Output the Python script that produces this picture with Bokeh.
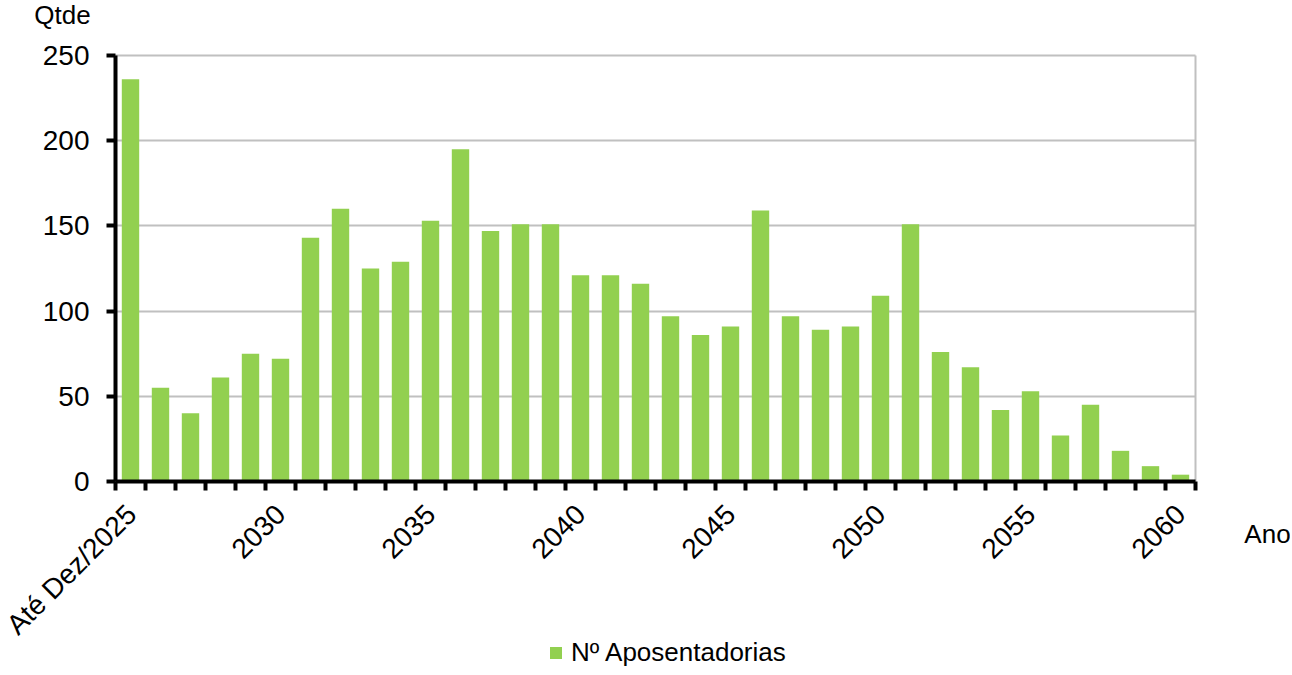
from bokeh.plotting import figure
from bokeh.models import Range1d, FixedTicker, Legend, LegendItem, Label
from bokeh.embed import file_html
from bokeh.resources import INLINE
import math

categories = ["Até Dez/2025"] + [str(y) for y in range(2026, 2061)]
values = [236, 55, 40, 61, 75, 72, 143, 160, 125, 129, 153, 195, 147, 151, 151,
          121, 121, 116, 97, 86, 91, 159, 97, 89, 91, 109, 151, 76, 67, 42, 53,
          27, 45, 18, 9, 4]
series_name = "Nº Aposentadorias"
y_label = "Qtde"
x_label = "Ano"
y_ticks = [0, 50, 100, 150, 200, 250]

FONT = "Liberation Sans"
TICK_FS = "28px"
FS = "26px"
GREEN = "#92D050"
GRID = "#C0C0C0"

n = len(categories)
xs = list(range(n))
y_max = 250

# canvas / plot-area geometry (pixels)
W, H = 1290, 667
PL, PR, PT, PB = 115, 1195, 55, 481
xpx = (PR - PL) / n            # pixels per category
ypx = (PB - PT) / y_max        # pixels per unit
x0 = -0.5 - PL / xpx
x1 = x0 + W / xpx
y0 = -(H - PB) / ypx
y1 = y_max + PT / ypx

p = figure(width=W, height=H, output_backend="svg", toolbar_location=None,
           x_range=Range1d(x0, x1), y_range=Range1d(y0, y1),
           min_border=0, min_border_left=0, min_border_right=0,
           min_border_top=0, min_border_bottom=0)
p.outline_line_color = None

r = p.vbar(x=xs, top=values, width=0.58, fill_color=GREEN, line_color=None)

label_idx = list(range(0, n, 5))
xa = p.xaxis[0]
xa.fixed_location = 0
xa.bounds = (-0.5, n - 0.5)
xa.ticker = FixedTicker(ticks=label_idx, minor_ticks=[i - 0.5 for i in range(n + 1)])
xa.major_label_overrides = {i: categories[i] for i in label_idx}
xa.major_label_orientation = math.pi / 4
xa.major_tick_out = 0
xa.major_tick_in = 0
xa.minor_tick_out = 9
xa.minor_tick_in = 0
xa.minor_tick_line_width = 4
xa.minor_tick_line_color = "black"
xa.axis_line_width = 4
xa.axis_line_color = "black"
xa.major_label_text_font = FONT
xa.major_label_text_font_size = TICK_FS
xa.major_label_text_color = "black"
xa.major_label_standoff = 19

ya = p.yaxis[0]
ya.fixed_location = -0.5
ya.bounds = (0, y_max)
ya.ticker = FixedTicker(ticks=y_ticks)
ya.minor_tick_line_color = None
ya.major_tick_out = 9
ya.major_tick_in = 0
ya.major_tick_line_width = 4
ya.axis_line_width = 4
ya.major_label_text_font = FONT
ya.major_label_text_font_size = TICK_FS
ya.major_label_text_color = "black"
ya.major_label_standoff = 17

p.ygrid.ticker = FixedTicker(ticks=y_ticks[1:])
p.ygrid.cross_bounds = (-0.5, n - 0.5)
p.ygrid.grid_line_color = GRID
p.ygrid.grid_line_width = 2
p.xgrid.ticker = FixedTicker(ticks=[n - 0.5])
p.xgrid.cross_bounds = (0, y_max)
p.xgrid.grid_line_color = GRID
p.xgrid.grid_line_width = 2

p.add_layout(Label(x=-0.5, y=y_max, x_offset=-53, y_offset=41, text=y_label,
                   text_font=FONT, text_font_size=FS, text_align="center",
                   text_baseline="middle", text_color="black"))
p.add_layout(Label(x=n - 0.5, y=0, x_offset=72, y_offset=-52, text=x_label,
                   text_font=FONT, text_font_size=FS, text_align="center",
                   text_baseline="middle", text_color="black"))

legend = Legend(items=[LegendItem(label=series_name, renderers=[r])],
                orientation="horizontal", location=(548, -1),
                label_text_font=FONT, label_text_font_size=FS, label_text_color="black",
                glyph_width=15, glyph_height=15, border_line_color=None,
                background_fill_alpha=0, label_standoff=8, padding=0, margin=0)
p.add_layout(legend, "center")

open("out.html", "w").write(file_html(p, INLINE))
